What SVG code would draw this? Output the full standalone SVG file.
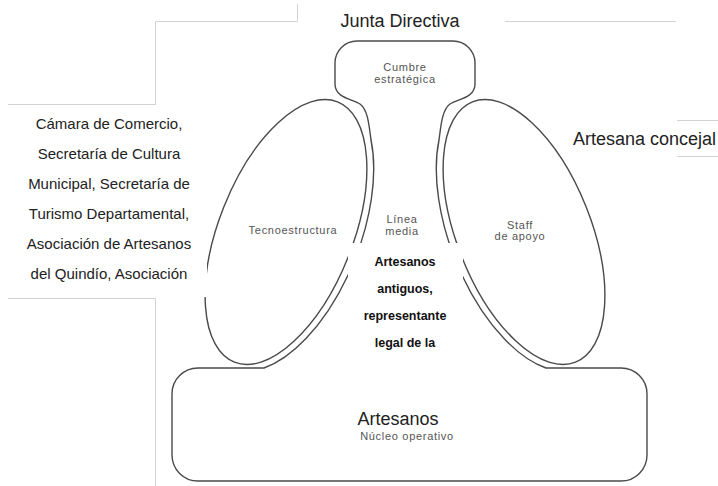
<svg xmlns="http://www.w3.org/2000/svg" width="718" height="486" viewBox="0 0 718 486">
<style>
.frame{fill:none;stroke:#d2d2d2;stroke-width:1}
.shape{fill:none;stroke:#4a4a4a;stroke-width:1.4}
.lbl{font-family:"Liberation Sans",Arial,sans-serif;font-size:11px;fill:#555;letter-spacing:0.7px;text-anchor:middle}
.big{font-family:"Liberation Sans",Arial,sans-serif;font-size:18px;fill:#222}
.side{font-family:"Liberation Sans",Arial,sans-serif;font-size:15px;fill:#222;text-anchor:middle}
.bold{font-family:"Liberation Sans",Arial,sans-serif;font-size:12.5px;font-weight:bold;fill:#111;text-anchor:middle}
</style>
<rect width="718" height="486" fill="#fff"/>
<g id="frames">
<path class="frame" d="M297.5,4 V21.5 H155.5 V104.5 H8 M8,298.5 H155.5 V486 M505,21.5 H676 M677,120.5 H718 M677,156.5 H718"/>
</g>
<g id="connectors">
<path id="outline" class="shape" d="M264,368 H198 A26,26 0 0 0 172,394 V455 A26,26 0 0 0 198,481 H621 A26,26 0 0 0 647,455 V394 A26,26 0 0 0 621,368 H546 A147,74 68.4 0 1 439,140 C441,125 442,110 450,104 C458,99 475,98 475,84 V63 A22,22 0 0 0 453,41 H357 A22,22 0 0 0 335,63 V84 C335,98 352,99 360,104 C368,110 369,125 371,140 A147,74 -68.4 0 1 264,368 Z"/>
</g>
<g id="tecnoestructura">
<ellipse class="shape" cx="0" cy="0" rx="140" ry="67" transform="translate(286,232) rotate(-68.4)"/>
<text class="lbl" x="293" y="234">Tecnoestructura</text>
</g>
<g id="staff">
<ellipse class="shape" cx="0" cy="0" rx="140" ry="67" transform="translate(524,232) rotate(68.4)"/>
<text class="lbl" x="520" y="228.5">Staff</text>
<text class="lbl" x="520" y="240">de apoyo</text>
</g>
<g id="cumbre">
<text class="lbl" x="405" y="70.5">Cumbre</text>
<text class="lbl" x="405" y="83">estratégica</text>
</g>
<g id="linea-media">
<text class="lbl" x="402" y="222.5">Línea</text>
<text class="lbl" x="402" y="235">media</text>
</g>
<g id="artesanos-antiguos">
<rect x="348" y="243" width="115" height="118" fill="#fff"/>
<text class="bold" x="405" y="266">Artesanos</text>
<text class="bold" x="405" y="293">antiguos,</text>
<text class="bold" x="405" y="320">representante</text>
<text class="bold" x="405" y="347">legal de la</text>
</g>
<g id="nucleo">
<text class="big" x="398" y="425" text-anchor="middle">Artesanos</text>
<text class="lbl" x="407" y="440">Núcleo operativo</text>
</g>
<g id="junta">
<text class="big" x="400" y="27" text-anchor="middle">Junta Directiva</text>
</g>
<g id="concejal">
<text class="big" x="573" y="145">Artesana concejal</text>
</g>
<g id="entidades">
<rect x="8" y="105" width="199" height="192" fill="#fff"/>
<text class="side" x="109" y="129">Cámara de Comercio,</text>
<text class="side" x="109" y="159">Secretaría de Cultura</text>
<text class="side" x="109" y="189">Municipal, Secretaría de</text>
<text class="side" x="109" y="219">Turismo Departamental,</text>
<text class="side" x="109" y="249">Asociación de Artesanos</text>
<text class="side" x="109" y="279">del Quindío, Asociación</text>
</g>
</svg>
